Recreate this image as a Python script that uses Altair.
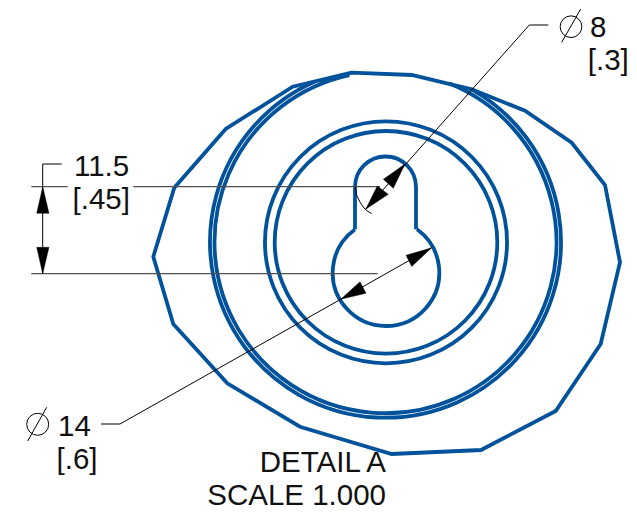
import altair as alt
import pandas as pd

BLUE = "#00529b"
GREY = "#505050"
FONT = "Liberation Sans"

outline_x = [351.7, 292.7, 225.7, 174.3, 153.3, 173.3, 227.3, 300, 391.7, 481, 555.7, 600.7, 620, 605, 571.7, 525, 471.7, 411.7]
outline_y = [72.7, 86.7, 129, 187.7, 256.7, 324, 383.3, 426.7, 454, 450, 411, 344, 262.3, 185, 142.7, 110.7, 89.3, 75]

arc_cx = [385.5, 385.5, 386, 386, 385.5, 386]
arc_cy = [242.2, 242.2, 242.3, 242.3, 187, 272.7]
arc_r = [175.5, 171, 121, 111.3, 30.5, 53.3]
arc_start = [0.513, 0.387, 0, 0, 4.712, 0.62]
arc_end = [5.87, 6.07, 6.2832, 6.2832, 7.854, 5.66]

slot_x = [[355, 355], [416, 416]]
slot_y = [[187, 229.3], [187, 229.3]]

thin_x = [
    [548.3, 529.3, 365.7],
    [431.7, 340.7, 120, 101],
    [61.7, 42.7, 42.7],
    [355.3, 356.5, 360, 364, 368, 371.7],
    [580.7, 561.7],
    [46.7, 27.7],
]
thin_y = [
    [25, 25, 209.3],
    [247.7, 299.3, 424, 424],
    [164, 164, 273.7],
    [186.7, 195, 202, 208, 211.5, 213.5],
    [9, 42.3],
    [407.3, 441],
]

grey_x = [[31.3, 67.7], [133.3, 380], [31.3, 377.7]]
grey_y = [[186.7, 186.7], [186.7, 186.7], [273.7, 273.7]]

head_x = [
    [405, 383.3, 393.3],
    [365.7, 377.3, 388.3],
    [431.7, 406, 411.7],
    [340.7, 360, 366],
    [42.7, 36.7, 49],
    [42.7, 36.7, 49],
]
head_y = [
    [164, 179.3, 188.3],
    [209.3, 186, 194.3],
    [247.7, 255.3, 266.5],
    [299.3, 281.7, 293.3],
    [186.7, 213.3, 213.3],
    [273.7, 247.3, 247.3],
]

phi_x = [571, 37.7]
phi_y = [26.7, 424.3]
phi_size = [470, 484]

labels = ["8", "[.3]", "11.5", "[.45]", "14", "[.6]"]
label_x = [590, 587.8, 74, 72.5, 58, 56.5]
label_y = [36.5, 69.5, 176, 209, 436, 469]

notes = ["DETAIL A", "SCALE 1.000"]
note_x = [386, 386]
note_y = [471.7, 505]


def paths(xs, ys):
    rows = []
    for g, (px, py) in enumerate(zip(xs, ys)):
        for i, (a, b) in enumerate(zip(px, py)):
            rows.append({"g": g, "i": i, "x": a, "y": b})
    return pd.DataFrame(rows)


X = alt.X("x:Q", scale=alt.Scale(domain=[8, 629], nice=False, zero=False), axis=None)
Y = alt.Y("y:Q", scale=alt.Scale(domain=[8, 509], nice=False, zero=False, reverse=True), axis=None)


def line_layer(df, **mark):
    return alt.Chart(df).mark_line(**mark).encode(
        x=X, y=Y, detail="g:N", order="i:Q"
    )


arcs = pd.DataFrame({"x": arc_cx, "y": arc_cy, "r": arc_r, "t": arc_start, "t2": arc_end})
arc_layer = alt.Chart(arcs).mark_arc(filled=False, stroke=BLUE, strokeWidth=3.8).encode(
    x=X,
    y=Y,
    radius=alt.Radius("r:Q", scale=None),
    radius2=alt.Radius2("r:Q"),
    theta=alt.Theta("t:Q", scale=None, stack=None),
    theta2=alt.Theta2("t2:Q"),
)

outline = line_layer(
    paths([outline_x], [outline_y]),
    stroke=BLUE, strokeWidth=3.8, interpolate="linear-closed", strokeJoin="miter",
)
slots = line_layer(paths(slot_x, slot_y), stroke=BLUE, strokeWidth=3.8)
greys = line_layer(paths(grey_x, grey_y), stroke=GREY, strokeWidth=1.3)
thins = line_layer(paths(thin_x, thin_y), stroke="#000000", strokeWidth=1)
heads = line_layer(
    paths(head_x, head_y),
    stroke="#000000", strokeWidth=0.4, fill="#000000", interpolate="linear-closed",
)
phis = alt.Chart(pd.DataFrame({"x": phi_x, "y": phi_y, "s": phi_size})).mark_point(
    shape="circle", filled=False, stroke="#000000", strokeWidth=1, opacity=1
).encode(x=X, y=Y, size=alt.Size("s:Q", scale=None, legend=None))

label_layer = alt.Chart(pd.DataFrame({"x": label_x, "y": label_y, "t": labels})).mark_text(
    align="left", baseline="alphabetic", font=FONT, fontSize=29.5, color="#111111"
).encode(x=X, y=Y, text="t:N")
note_layer = alt.Chart(pd.DataFrame({"x": note_x, "y": note_y, "t": notes})).mark_text(
    align="right", baseline="alphabetic", font=FONT, fontSize=29.5, color="#111111"
).encode(x=X, y=Y, text="t:N")

chart = alt.layer(
    outline, arc_layer, slots, greys, thins, heads, phis, label_layer, note_layer
).properties(
    width=621, height=501,
    padding={"left": 0, "top": 0, "right": 0, "bottom": 3},
    autosize=alt.AutoSizeParams(type="none"),
).configure_view(stroke=None)

chart.save("out.html", embed_options={"renderer": "svg", "actions": False})
